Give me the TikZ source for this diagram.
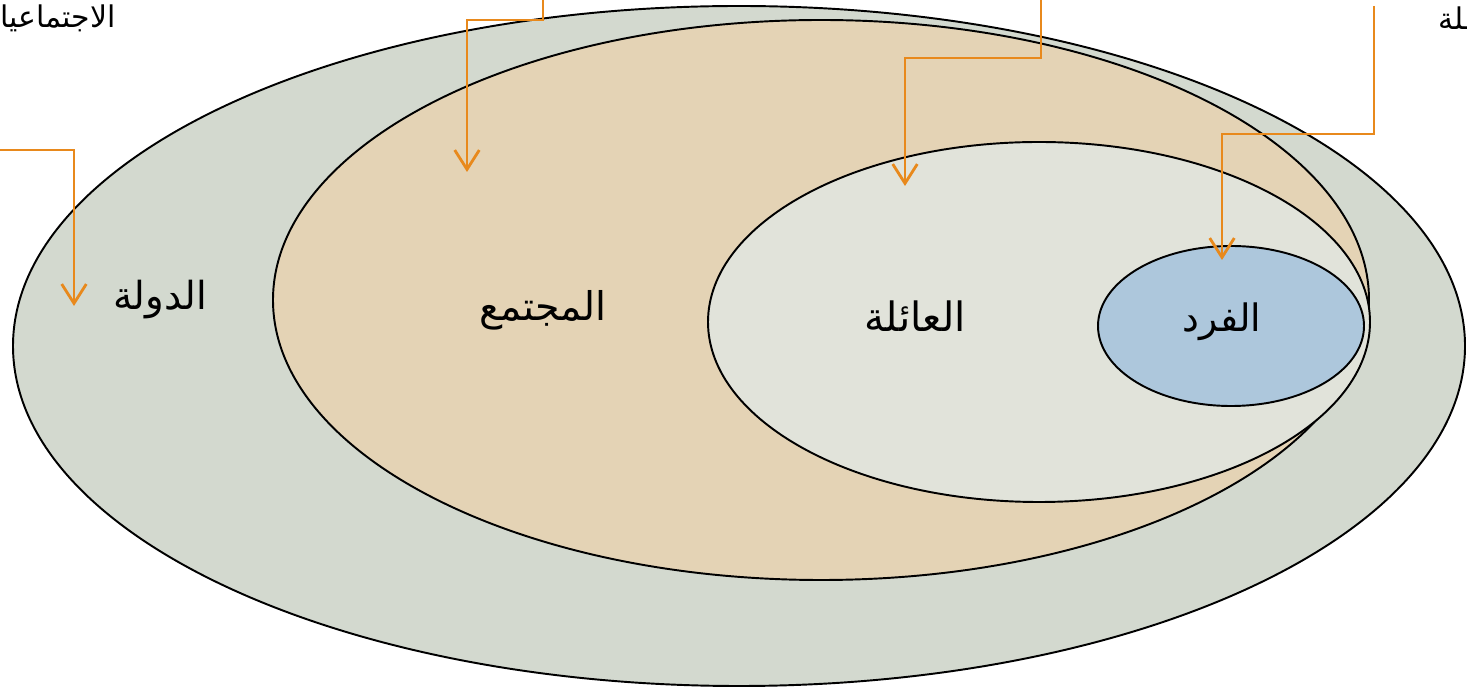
\documentclass[tikz,border=0pt]{standalone}
\usepackage{fontspec}
\newfontfamily\arabicfont[Script=Arabic]{DejaVu Sans}
\TeXXeTstate=1
\usetikzlibrary{arrows.meta}
\usepackage{xcolor}
\definecolor{statefill}{HTML}{D3D9CF}
\definecolor{societyfill}{HTML}{E4D3B5}
\definecolor{familyfill}{HTML}{E1E3DA}
\definecolor{personfill}{HTML}{ADC7DC}
\definecolor{pointorange}{HTML}{E8891C}

\begin{document}
\begin{tikzpicture}[
    x=0.02cm, y=-0.02cm,
    ring/.style={draw=black, line width=1.1pt, fill=#1},
    lbl/.style={font=\arabicfont\fontsize{#1}{#1}\selectfont, inner sep=0pt},
    pointer/.style={draw=pointorange, line width=1.6pt,
                    -{Straight Barb[length=11pt,width=14pt]}}
]
\clip (0,0) rectangle (1467,688);

% Nested rings
\filldraw[ring=statefill] (739,346) ellipse [x radius=726, y radius=340];
\filldraw[ring=societyfill] (821,300) ellipse [x radius=548, y radius=280];
\filldraw[ring=familyfill] (1039,322) ellipse [x radius=331, y radius=180];
\filldraw[ring=personfill] (1231,326) ellipse [x radius=133, y radius=80];

% Ring names
\node[lbl=22pt] (state) at (160,300) {\beginR الدولة\endR};
\node[lbl=22.5pt] (society) at (543,310) {\beginR المجتمع\endR};
\node[lbl=23pt] (family) at (915,316) {\beginR العائلة\endR};
\node[lbl=21.5pt] (person) at (1222,322) {\beginR الفرد\endR};

% Cut-off captions at the top
\node[lbl=17pt, anchor=east] (topleft) at (116,18) {\beginR الاجتماعيا\endR};
\node[lbl=17pt, anchor=west] (topright) at (1438,18) {\beginR ـلة\endR};

% Pointers
\coordinate (s1) at (543,0);  \coordinate (k1) at (467,20);  \coordinate (t1) at (467,172);
\coordinate (s2) at (1041,0); \coordinate (k2) at (905,58);  \coordinate (t2) at (905,186);
\coordinate (s3) at (1374,6); \coordinate (k3) at (1222,134); \coordinate (t3) at (1222,260);
\coordinate (s4) at (0,150);  \coordinate (t4) at (74,306);
\draw[pointer] (s1) |- (k1) -- (t1);
\draw[pointer] (s2) |- (k2) -- (t2);
\draw[pointer] (s3) |- (k3) -- (t3);
\draw[pointer] (s4) -| (t4);

\end{tikzpicture}
\end{document}
